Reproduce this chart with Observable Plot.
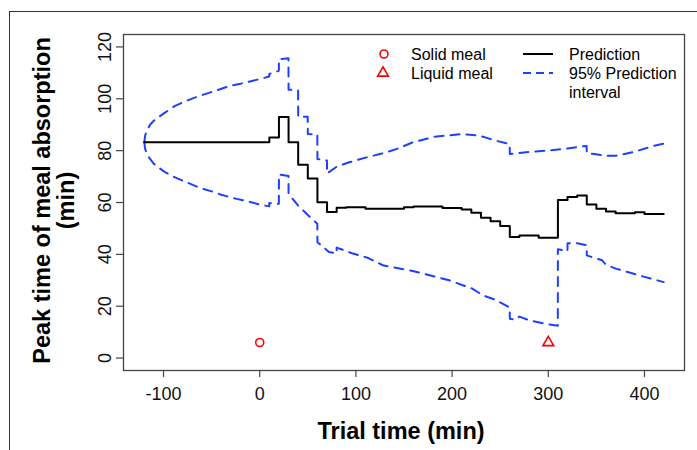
<!DOCTYPE html>
<html>
<head>
<meta charset="utf-8">
<script src="https://cdn.jsdelivr.net/npm/d3@7"></script>
<script src="https://cdn.jsdelivr.net/npm/@observablehq/plot@0.6"></script>
<style>
  html, body { margin: 0; padding: 0; background: #fff; }
  #wrap { position: relative; width: 697px; height: 450px; overflow: hidden; font-family: "Liberation Sans", Arial, Helvetica, sans-serif; }
  #outer { position: absolute; left: 9px; top: 11px; width: 720px; height: 470px; border-top: 1.3px solid #333; border-left: 1.3px solid #333; box-sizing: border-box; }
  #chart { position: absolute; left: 0; top: 0; }
  #legend { position: absolute; left: 0; top: 0; pointer-events: none; }
</style>
</head>
<body>
<div id="wrap">
  <div id="outer"></div>
  <div id="chart"></div>
  <svg id="legend" width="697" height="450"></svg>
</div>
<script>
// Prediction (step function, value holds until next time)
const predT = [-120,10,20,30,40,50,60,70,80,90,100,110,150,160,190,210,220,230,240,250,260,270,290,310,320,330,340,350,360,370,390,400,420];
const predV = [83.2,85.1,93,83.2,74.6,69.3,60.1,56.3,58.0,58.2,58.2,57.6,58.2,58.5,57.9,57.3,56.0,54.1,52.8,50.9,46.7,47.3,46.4,61.0,62.1,62.7,59.2,57.6,56.5,55.9,56.2,55.6,55.6];

// Upper 95% prediction interval
const upT = [-120,-119,-117,-114,-110,-100,-88,-75,-62,-45,-31,-20,0,9.9,10,19.9,20,29.9,30,39.9,40,49.9,50,59.9,60,69.9,70,80,93,111,125,132,145,159,182,211,228,246,259.9,260,277,298,320,332,339.9,340,348,360,370,388,410,420];
const upV = [83.2,86,88,90,91.6,94.3,97.3,99.4,101.2,103.2,105,105.8,107.6,108.6,109.6,110.8,115.3,115.6,103.5,103.3,93.1,93.1,86.4,86.2,76.8,76.2,71.2,73.8,75.5,77.4,78.7,79.4,81,83.2,85.4,86.4,85.8,83.8,82.5,78.7,79.4,80,80.8,81.5,81.8,79,78.7,78,78,79.4,81.9,82.7];

// Lower 95% prediction interval
const lowT = [-120,-119,-117,-114,-110,-100,-90,-76,-62,-50,-40,-24,-10,0,9.9,10,19.9,20,29.9,30,40,50,59.9,60,72,79.9,80,97,112,128,159,197,211,221,232,246,259.9,260,266,270,280,298,309.9,310,319.9,320,330,339.9,340,356,360,370,388,398,420];
const lowV = [83.2,80.5,78.6,76.8,74.9,72.1,70,67.8,65.6,64.3,63,61.4,60.2,59.2,58.5,59.8,59.5,70.8,70.2,63.3,58.8,55.2,51.8,44.7,40.9,40.3,42.6,40.3,38.7,35.8,33.6,30,28.1,26.8,24.2,22.3,19.5,15.2,14.8,16,14.6,13.1,12.5,42,41.2,44.3,44.3,43.5,39.6,37.7,36,34.5,32.6,31.5,29.3];

// Meals
const mealNames = ["Solid meal", "Liquid meal"];
const mealT = [0, 300];
const mealV = [6, 6];
const mealSymbols = ["circle", "triangle"];

const xTicks = [-100, 0, 100, 200, 300, 400];
const yTicks = [0, 20, 40, 60, 80, 100, 120];
const xTitle = "Trial time (min)";
const yTitle = "Peak time of meal absorption\n(min)";
const legendLabels = ["Solid meal", "Liquid meal", "Prediction", "95% Prediction\ninterval"];

const pred = predT.map((t, i) => ({t, v: predV[i]}));
const up = upT.map((t, i) => ({t, v: upV[i]}));
const low = lowT.map((t, i) => ({t, v: lowV[i]}));
const meals = mealT.map((t, i) => ({t, v: mealV[i], name: mealNames[i], symbol: mealSymbols[i]}));

const BLUE = "#1f3fff";
const FONT = "'Liberation Sans', Arial, Helvetica, sans-serif";

const chart = Plot.plot({
  width: 697,
  height: 450,
  marginLeft: 123,
  marginRight: 13,
  marginTop: 34,
  marginBottom: 80,
  style: {fontFamily: FONT, fontSize: "18px", color: "#111", background: "transparent"},
  x: {domain: [-141.6, 441.6]},
  y: {domain: [-4.8, 124.8]},
  marks: [
    Plot.frame({stroke: "#444", strokeWidth: 1.3}),
    Plot.axisX({ticks: xTicks, tickSize: 7, tickPadding: 10, tickFormat: d => String(d), label: null, strokeWidth: 1.2, stroke: "#444"}),
    Plot.axisY({ticks: yTicks, tickSize: 7, tickFormat: () => "", label: null, strokeWidth: 1.2, stroke: "#444"}),
    Plot.text(yTicks, {y: d => d, text: d => String(d), frameAnchor: "left", textAnchor: "middle", rotate: -90, dx: -13, lineAnchor: "bottom", fontSize: 18, fill: "#111"}),
    Plot.line(up, {x: "t", y: "v", stroke: BLUE, strokeWidth: 2, strokeDasharray: "9,7"}),
    Plot.line(low, {x: "t", y: "v", stroke: BLUE, strokeWidth: 2, strokeDasharray: "9,7"}),
    Plot.line(pred, {x: "t", y: "v", stroke: "#000", strokeWidth: 2, curve: "step-after"}),
    Plot.dot(meals, {x: "t", y: "v", symbol: "symbol", stroke: "#ff0000", fill: "none", r: 4, strokeWidth: 1.6}),
    Plot.text([xTitle], {frameAnchor: "bottom", textAnchor: "middle", dy: 68, dx: -3, lineAnchor: "bottom", fontSize: 23.5, fontWeight: "bold", fill: "#000"}),
    Plot.text([yTitle], {frameAnchor: "left", textAnchor: "middle", rotate: -90, dx: -50, dy: -2, lineAnchor: "bottom", lineHeight: 1, fontSize: 23.5, fontWeight: "bold", fill: "#000"})
  ]
});
document.getElementById("chart").appendChild(chart);

// Legend (drawn as an overlay)
const lg = d3.select("#legend").style("font-family", FONT);
const sym = d3.symbol();
lg.append("path").attr("transform", "translate(384,54)")
  .attr("d", sym.type(d3.symbolCircle).size(Math.PI * 16)())
  .attr("fill", "none").attr("stroke", "#ff0000").attr("stroke-width", 1.6);
lg.append("path").attr("transform", "translate(383,73)")
  .attr("d", sym.type(d3.symbolTriangle).size(Math.PI * 16)())
  .attr("fill", "none").attr("stroke", "#ff0000").attr("stroke-width", 1.6);
lg.append("text").attr("x", 411).attr("y", 60).attr("font-size", 16).text(legendLabels[0]);
lg.append("text").attr("x", 411).attr("y", 79).attr("font-size", 16).text(legendLabels[1]);
lg.append("line").attr("x1", 523).attr("x2", 553).attr("y1", 54).attr("y2", 54)
  .attr("stroke", "#000").attr("stroke-width", 2);
lg.append("line").attr("x1", 523).attr("x2", 553).attr("y1", 73).attr("y2", 73)
  .attr("stroke", BLUE).attr("stroke-width", 2).attr("stroke-dasharray", "8,5");
lg.append("text").attr("x", 569).attr("y", 60).attr("font-size", 16).text(legendLabels[2]);
legendLabels[3].split("\n").forEach((s, i) => {
  lg.append("text").attr("x", 569).attr("y", 79 + i * 19).attr("font-size", 16).text(s);
});
</script>
</body>
</html>
